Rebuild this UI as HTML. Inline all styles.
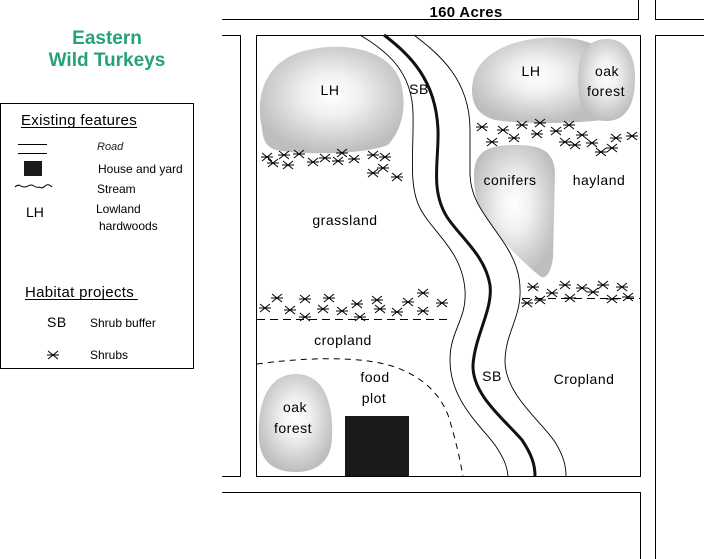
<!DOCTYPE html>
<html><head><meta charset="utf-8"><style>
html,body{margin:0;padding:0;background:#fff;}
svg{display:block;}
text{font-family:"Liberation Sans",Arial,sans-serif;fill:#000;}
.m{font-size:14px;letter-spacing:0.5px;text-anchor:middle;}
.l{font-size:12px;}
</style></head><body>
<svg width="704" height="559" viewBox="0 0 704 559" xmlns="http://www.w3.org/2000/svg">
<defs>
<radialGradient id="g" cx="0.5" cy="0.45" r="0.55">
<stop offset="0" stop-color="#ffffff"/>
<stop offset="0.35" stop-color="#f0f1f0"/>
<stop offset="1" stop-color="#bcbfbc"/>
</radialGradient>
<g id="s" stroke="#000" stroke-width="1" fill="none">
<path d="M-5,-4 L5,4 M-5,4 L5,-4 M-6,0 L6,0"/>
</g>
</defs>
<rect width="704" height="559" fill="#fff"/>

<!-- Title -->
<text x="107" y="44" font-size="19" font-weight="bold" fill="#26a27a" style="fill:#26a27a" text-anchor="middle">Eastern</text>
<text x="107" y="66" font-size="19" font-weight="bold" fill="#26a27a" style="fill:#26a27a" text-anchor="middle">Wild Turkeys</text>

<!-- Roads -->
<g stroke="#000" stroke-width="1" fill="none">
<path d="M222,19.5 H638.5 V0"/>
<path d="M704,19.5 H655.5 V0"/>
<path d="M222,35.5 H240.5 V476.5 H222"/>
<rect x="256.5" y="35.5" width="384" height="441"/>
<path d="M704,35.5 H655.5 V559"/>
<path d="M222,492.5 H640.5 V559"/>
</g>

<!-- Legend -->
<rect x="0.5" y="103.5" width="193" height="265" fill="none" stroke="#000"/>
<text x="21" y="125" font-size="15" letter-spacing="0.3">Existing features</text>
<line x1="21" y1="127.5" x2="137" y2="127.5" stroke="#000"/>
<line x1="18" y1="144.5" x2="47" y2="144.5" stroke="#000"/>
<line x1="18" y1="153.5" x2="47" y2="153.5" stroke="#000"/>
<text x="97" y="150" font-size="11" font-style="italic" style="fill:#222">Road</text>
<rect x="24" y="161" width="18" height="15" fill="#1a1a1a"/>
<text x="98" y="173" class="l" font-size="12.5">House and yard</text>
<path d="M15,187 q3,-3 6,-1 t7,0 q3,-2 6,0 t5,1 q3,2 6,-1 t7,1" fill="none" stroke="#000"/>
<text x="97" y="193" class="l" font-size="12.5">Stream</text>
<text x="26" y="217" font-size="14">LH</text>
<text x="96" y="213" class="l" font-size="12.5">Lowland</text>
<text x="99" y="230" class="l" font-size="12.5">hardwoods</text>
<text x="25" y="297" font-size="15" letter-spacing="0.3">Habitat projects</text>
<line x1="25" y1="299.5" x2="138" y2="299.5" stroke="#000"/>
<text x="47" y="327" font-size="14" letter-spacing="0.5">SB</text>
<text x="90" y="327" class="l" font-size="12.5">Shrub buffer</text>
<use href="#s" x="53" y="355" transform=""/>
<text x="90" y="359" class="l" font-size="12.5">Shrubs</text>

<!-- Blobs -->
<path d="M262,128 C255,98 264,64 300,52 C340,40 388,48 400,80 C408,105 402,130 388,145 C362,155 300,155 276,150 C266,147 263,140 262,128 Z" fill="url(#g)"/>
<path d="M472,90 C472,60 500,42 540,38 C570,36 590,40 602,50 L602,120 C570,124 520,124 495,120 C478,115 472,105 472,90 Z" fill="url(#g)"/>
<path d="M578,80 C578,50 590,39 607,39 C624,39 636,52 635,82 C634,108 624,121 606,121 C588,121 578,108 578,80 Z" fill="url(#g)"/>
<path d="M474,175 C474,150 490,145 515,145 C540,145 555,150 555,175 L553,258 C551,272 546,279 541,277 C520,260 492,232 479,206 C475,196 474,186 474,175 Z" fill="url(#g)"/>
<path d="M259,438 C257,400 270,374 296,374 C322,374 334,400 332,438 C331,463 315,472 296,472 C275,472 260,463 259,438 Z" fill="url(#g)"/>

<!-- House -->
<rect x="345" y="416" width="64" height="60" fill="#1a1a1a"/>

<!-- Stream and buffer -->
<path d="M384,35 C410,55 436,80 438,130 C439,160 430,190 447,217 C460,237 485,255 490,285 C493,310 475,335 473,365 C472,395 505,420 522,440 C532,455 535,465 535,476" fill="none" stroke="#111" stroke-width="3"/>
<path d="M360,35 C385,50 412,70 413,113 C414,150 408,185 420,208 C432,232 462,250 465,290 C467,320 450,330 450,360 C450,400 480,425 495,445 C503,457 507,465 508,476" fill="none" stroke="#000" stroke-width="0.9"/>
<path d="M414,35 C440,55 470,80 470,130 L470,175 C471,200 485,215 500,237 C515,258 521,275 520,295 C519,320 505,335 505,362 C506,395 540,420 555,442 C563,455 566,465 566,476" fill="none" stroke="#000" stroke-width="0.9"/>

<!-- Dashed lines -->
<line x1="257" y1="319.5" x2="452" y2="319.5" stroke="#000" stroke-dasharray="8,5"/>
<line x1="522" y1="298.5" x2="640" y2="298.5" stroke="#000" stroke-dasharray="8,5"/>
<path d="M257,364 C300,358 360,355 395,367 C425,378 440,395 448,415 C456,440 460,460 463,476" fill="none" stroke="#000" stroke-dasharray="6,5"/>

<!-- Shrubs -->
<g>
<use href="#s" x="267" y="157"/><use href="#s" x="273" y="163"/><use href="#s" x="284" y="155"/><use href="#s" x="288" y="165"/>
<use href="#s" x="299" y="154"/><use href="#s" x="313" y="162"/><use href="#s" x="325" y="158"/><use href="#s" x="338" y="161"/>
<use href="#s" x="342" y="153"/><use href="#s" x="354" y="159"/><use href="#s" x="373" y="155"/><use href="#s" x="385" y="157"/>
<use href="#s" x="383" y="168"/><use href="#s" x="373" y="173"/><use href="#s" x="397" y="177"/>

<use href="#s" x="482" y="127"/><use href="#s" x="492" y="142"/><use href="#s" x="503" y="130"/><use href="#s" x="514" y="138"/>
<use href="#s" x="522" y="125"/><use href="#s" x="537" y="134"/><use href="#s" x="540" y="123"/><use href="#s" x="556" y="131"/>
<use href="#s" x="569" y="125"/><use href="#s" x="565" y="142"/><use href="#s" x="575" y="145"/><use href="#s" x="582" y="135"/>
<use href="#s" x="592" y="143"/><use href="#s" x="601" y="152"/><use href="#s" x="612" y="148"/><use href="#s" x="616" y="138"/>
<use href="#s" x="632" y="136"/>

<use href="#s" x="265" y="308"/><use href="#s" x="277" y="298"/><use href="#s" x="290" y="310"/><use href="#s" x="305" y="299"/>
<use href="#s" x="305" y="317"/><use href="#s" x="323" y="309"/><use href="#s" x="329" y="298"/><use href="#s" x="342" y="311"/>
<use href="#s" x="357" y="304"/><use href="#s" x="360" y="317"/><use href="#s" x="377" y="300"/><use href="#s" x="380" y="309"/>
<use href="#s" x="397" y="312"/><use href="#s" x="408" y="302"/><use href="#s" x="423" y="293"/><use href="#s" x="423" y="311"/>
<use href="#s" x="442" y="303"/>

<use href="#s" x="533" y="287"/><use href="#s" x="527" y="303"/><use href="#s" x="540" y="300"/><use href="#s" x="552" y="293"/>
<use href="#s" x="565" y="285"/><use href="#s" x="570" y="298"/><use href="#s" x="582" y="288"/><use href="#s" x="593" y="292"/>
<use href="#s" x="603" y="285"/><use href="#s" x="612" y="299"/><use href="#s" x="622" y="287"/><use href="#s" x="628" y="297"/>
</g>

<!-- Labels -->
<text x="466" y="17" font-size="15" font-weight="bold" text-anchor="middle" letter-spacing="0.3">160 Acres</text>
<text class="m" x="330" y="95">LH</text>
<text class="m" x="419" y="94">SB</text>
<text class="m" x="531" y="76">LH</text>
<text class="m" x="607" y="76">oak</text>
<text class="m" x="606" y="96">forest</text>
<text class="m" x="510" y="185">conifers</text>
<text class="m" x="599" y="185">hayland</text>
<text class="m" x="345" y="225">grassland</text>
<text class="m" x="343" y="345">cropland</text>
<text class="m" x="375" y="382">food</text>
<text class="m" x="374" y="403">plot</text>
<text class="m" x="295" y="412">oak</text>
<text class="m" x="293" y="433">forest</text>
<text class="m" x="492" y="381">SB</text>
<text class="m" x="584" y="384">Cropland</text>
</svg>
</body></html>
